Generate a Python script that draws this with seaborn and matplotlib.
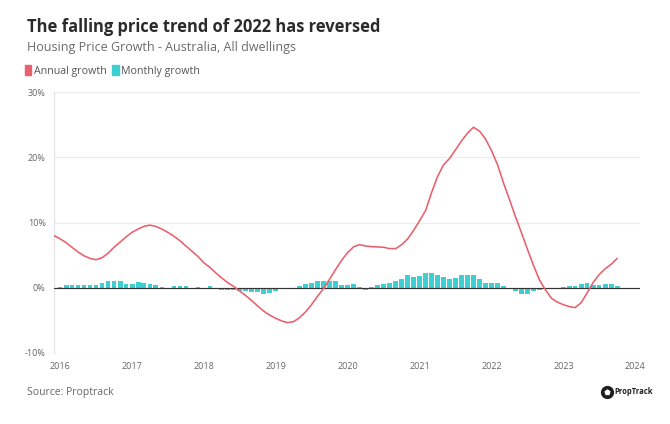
import pandas as pd
import matplotlib
matplotlib.use('Agg')
import matplotlib.pyplot as plt
from matplotlib.patches import Patch
from matplotlib.lines import Line2D
import seaborn as sns

# --- datos (% crecimiento) ---
annual_start = '2015-12-01'
annual_growth = [
    8.0,
    7.5, 6.9, 6.2, 5.5, 4.9, 4.5, 4.3, 4.6, 5.3, 6.2, 7.0, 7.8,          # 2016
    8.5, 9.0, 9.4, 9.6, 9.4, 9.0, 8.5, 7.9, 7.2, 6.4, 5.6, 4.8,          # 2017
    3.8, 3.1, 2.3, 1.5, 0.8, 0.2, -0.5, -1.2, -2.0, -2.8, -3.6, -4.2,    # 2018
    -4.7, -5.1, -5.35, -5.2, -4.6, -3.7, -2.6, -1.3, -0.1, 1.3, 2.8, 4.2,  # 2019
    5.4, 6.3, 6.6, 6.4, 6.3, 6.25, 6.2, 6.0, 6.0, 6.6, 7.5, 8.8,         # 2020
    10.3, 11.9, 14.5, 17.0, 18.8, 19.8, 21.1, 22.5, 23.7, 24.6, 24.0, 22.8,  # 2021
    21.0, 18.8, 16.2, 13.6, 11.0, 8.5, 6.0, 3.5, 1.2, -0.3, -1.6, -2.2,  # 2022
    -2.6, -2.9, -3.05, -2.3, -0.8, 0.8, 2.0, 2.9, 3.6, 4.5,              # 2023
]

monthly_start = '2016-01-01'
monthly_growth = [
    0.1, 0.45, 0.45, 0.45, 0.45, 0.45, 0.45, 0.8, 1.0, 1.0, 1.0, 0.6,    # 2016
    0.6, 0.9, 0.8, 0.6, 0.4, 0.15, 0.0, 0.3, 0.3, 0.3, 0.0, 0.05,        # 2017
    0.0, 0.3, -0.1, -0.3, -0.3, -0.3, -0.5, -0.5, -0.6, -0.7, -0.9, -0.8,  # 2018
    -0.5, -0.25, -0.1, -0.05, 0.2, 0.5, 0.8, 1.0, 1.0, 1.0, 1.0, 0.35,   # 2019
    0.4, 0.5, 0.05, -0.4, 0.1, 0.45, 0.5, 0.7, 1.0, 1.4, 1.9, 1.6,       # 2020
    1.8, 2.2, 2.2, 1.9, 1.6, 1.3, 1.5, 1.9, 2.0, 2.0, 1.4, 0.7,          # 2021
    0.7, 0.7, 0.3, -0.1, -0.5, -0.9, -0.9, -0.5, -0.3, -0.05, -0.1, -0.05,  # 2022
    0.1, 0.3, 0.3, 0.6, 0.7, 0.4, 0.4, 0.5, 0.5, 0.3,                    # 2023
]

y_ticks = [-10, 0, 10, 20, 30]
x_years = list(range(2016, 2025))

df_a = pd.DataFrame({'fecha': pd.date_range(annual_start, periods=len(annual_growth), freq='MS'),
                     'crecimiento': annual_growth})
df_m = pd.DataFrame({'fecha': pd.date_range(monthly_start, periods=len(monthly_growth), freq='MS'),
                     'crecimiento': monthly_growth})

ROJO = '#e8606c'
TURQ = '#3ecfd3'
GRIS = '#666666'

sns.set_style('white')
plt.rcParams['font.family'] = ['Open Sans', 'DejaVu Sans']

fig = plt.figure(figsize=(6.7, 4.24), dpi=100)
ax = fig.add_axes([54 / 670, 1 - 353 / 424, (640 - 54) / 670, (353 - 92) / 424])

# grid
for v in y_ticks:
    if v != 0:
        ax.axhline(v, color='#ececec', lw=0.9, zorder=0)

ax.bar(df_m['fecha'], df_m['crecimiento'], width=24, color=TURQ, linewidth=0, zorder=2)
ax.axhline(0, color='#333333', lw=0.85, zorder=3)
sns.lineplot(data=df_a, x='fecha', y='crecimiento', ax=ax, color=ROJO, lw=1.15, zorder=4)

ax.set_ylim(-10, 30)
ax.set_xlim(pd.Timestamp('2015-12-01'), pd.Timestamp('2024-01-25'))
ax.set_yticks(y_ticks)
ax.set_yticklabels([f'{v}%' for v in y_ticks])
ax.set_xticks([pd.Timestamp(f'{y}-01-01') for y in x_years])
ax.set_xticklabels([str(y) for y in x_years])
ax.tick_params(axis='both', labelsize=6.5, labelcolor=GRIS, colors='#dddddd', length=3, width=0.8)
ax.tick_params(axis='y', length=0, pad=6)
ax.set_xlabel('')
ax.set_ylabel('')
for s in ['top', 'right', 'bottom']:
    ax.spines[s].set_visible(False)
ax.spines['left'].set_color('#e6e6e6')
ax.spines['left'].set_linewidth(0.9)

# textos
fig.text(27 / 670, 1 - 27 / 424, 'The falling price trend of 2022 has reversed',
         fontsize=11.9, fontweight='bold', color='#2b2b2b', va='center')
fig.text(27 / 670, 1 - 48 / 424, 'Housing Price Growth - Australia, All dwellings',
         fontsize=9.0, color='#6b6b6b', va='center')
handles = [Patch(color=ROJO, label='Annual growth'), Patch(color=TURQ, label='Monthly growth')]
fig.legend(handles=handles, loc='center left', bbox_to_anchor=(25 / 670, 1 - 71 / 424), ncol=2,
           frameon=False, fontsize=7.7, handlelength=0.6, handleheight=1.1, handletextpad=0.25,
           columnspacing=0.5, borderpad=0, borderaxespad=0, labelcolor='#555555')
fig.text(27 / 670, 1 - 393 / 424, 'Source: Proptrack', fontsize=7.5, color='#666666', va='center')

# logo PropTrack
fig.add_artist(Line2D([607 / 670], [1 - 392 / 424], marker='o', markersize=8.5, color='#1e1e1e',
                      transform=fig.transFigure))
fig.add_artist(Line2D([607 / 670], [1 - 392 / 424], marker='p', markersize=3.5, color='white',
                      transform=fig.transFigure))
fig.text(614 / 670, 1 - 392 / 424, 'PropTrack', fontsize=5.5, fontweight='bold', color='#222222',
         va='center')

fig.savefig('out.png', dpi=100, facecolor='white')
